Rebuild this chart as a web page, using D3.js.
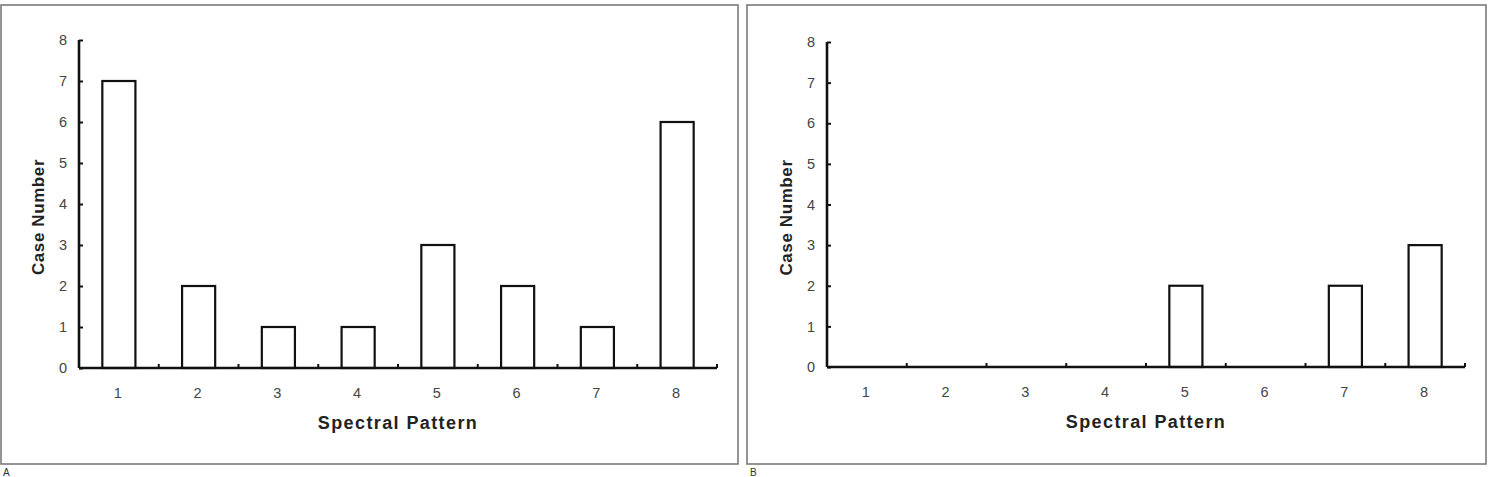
<!DOCTYPE html>
<html>
<head>
<meta charset="utf-8">
<script src="https://cdn.jsdelivr.net/npm/d3@7/dist/d3.min.js"></script>
<style>
  html, body { margin: 0; padding: 0; background: #fff; }
  svg { display: block; }
</style>
</head>
<body>
<script>
const categories = ["1", "2", "3", "4", "5", "6", "7", "8"];
const valuesA = [7, 2, 1, 1, 3, 2, 1, 6];
const valuesB = [0, 0, 0, 0, 2, 0, 2, 3];
const yTicks = [0, 1, 2, 3, 4, 5, 6, 7, 8];
const panelLabels = ["A", "B"];
const xTitle = "Spectral Pattern";
const yTitle = "Case Number";

const W = 1491, H = 477;
const svg = d3.select("body").append("svg").attr("width", W).attr("height", H);

const panels = [
  { frame: [1, 5, 737, 459], axisX: 79, y0: 368, y8: 40, values: valuesA, label: panelLabels[0], labelX: 3 },
  { frame: [747, 5, 739, 459], axisX: 827, y0: 367, y8: 42, values: valuesB, label: panelLabels[1], labelX: 750 }
];

const fontFam = "'Liberation Sans', Arial, sans-serif";

panels.forEach(p => {
  const g = svg.append("g");
  g.append("rect")
    .attr("x", p.frame[0]).attr("y", p.frame[1])
    .attr("width", p.frame[2]).attr("height", p.frame[3])
    .attr("fill", "none").attr("stroke", "#7a7a7a").attr("stroke-width", 1.6);

  const x = d3.scaleBand().domain(categories).range([p.axisX, p.axisX + 638]).padding(0);
  const y = d3.scaleLinear().domain([0, 8]).range([p.y0, p.y8]);
  const bw = x.bandwidth() * 0.415;

  // bars
  g.selectAll("rect.bar")
    .data(categories.map((c, i) => ({ c, v: p.values[i] })).filter(d => d.v > 0))
    .enter().append("rect")
    .attr("class", "bar")
    .attr("x", d => x(d.c) + x.bandwidth() / 2 - bw / 2)
    .attr("y", d => y(d.v))
    .attr("width", bw)
    .attr("height", d => y(0) - y(d.v))
    .attr("fill", "#fff").attr("stroke", "#111").attr("stroke-width", 2.2);

  // y axis
  const yAxis = d3.axisRight(y).tickValues(yTicks).tickSize(4).tickFormat("");
  const ya = g.append("g").attr("transform", `translate(${p.axisX},0)`).call(yAxis);
  ya.select(".domain").attr("stroke", "#111").attr("stroke-width", 2.6)
    .attr("d", `M0,${y(8)}V${y(0)}`);
  ya.selectAll(".tick line").attr("stroke", "#111").attr("stroke-width", 2);

  g.selectAll("text.ytick").data(yTicks).enter().append("text")
    .attr("class", "ytick")
    .attr("x", p.axisX - 12).attr("y", d => y(d)).attr("dy", "0.36em")
    .attr("text-anchor", "end")
    .attr("font-family", fontFam).attr("font-size", 14.5).attr("fill", "#444")
    .text(d => d);

  // x axis
  const boundaries = categories.map(c => x(c) + x.bandwidth());
  g.append("line")
    .attr("x1", p.axisX).attr("x2", p.axisX + 638)
    .attr("y1", y(0)).attr("y2", y(0))
    .attr("stroke", "#111").attr("stroke-width", 2.6);
  g.selectAll("line.xtick").data(boundaries).enter().append("line")
    .attr("class", "xtick")
    .attr("x1", d => d).attr("x2", d => d)
    .attr("y1", y(0)).attr("y2", y(0) - 4)
    .attr("stroke", "#111").attr("stroke-width", 2);

  g.selectAll("text.xlab").data(categories).enter().append("text")
    .attr("class", "xlab")
    .attr("x", d => x(d) + x.bandwidth() / 2 - 1).attr("y", y(0) + 30)
    .attr("text-anchor", "middle")
    .attr("font-family", fontFam).attr("font-size", 14.5).attr("fill", "#444")
    .text(d => d);

  // titles
  g.append("text")
    .attr("x", p.axisX + 319).attr("y", y(0) + 61)
    .attr("text-anchor", "middle")
    .attr("font-family", fontFam).attr("font-size", 18).attr("font-weight", "bold")
    .attr("fill", "#222").attr("letter-spacing", "1.4px")
    .text(xTitle);

  g.append("text")
    .attr("transform", `translate(${p.axisX - 35},${(y(0) + y(8)) / 2 + 13}) rotate(-90)`)
    .attr("text-anchor", "middle")
    .attr("font-family", fontFam).attr("font-size", 17).attr("font-weight", "bold")
    .attr("fill", "#222").attr("letter-spacing", "0.6px")
    .text(yTitle);

  // panel label at the bottom edge
  g.append("text")
    .attr("x", p.labelX).attr("y", 476)
    .attr("font-family", fontFam).attr("font-size", 10).attr("fill", "#333")
    .text(p.label);
});
</script>
</body>
</html>
